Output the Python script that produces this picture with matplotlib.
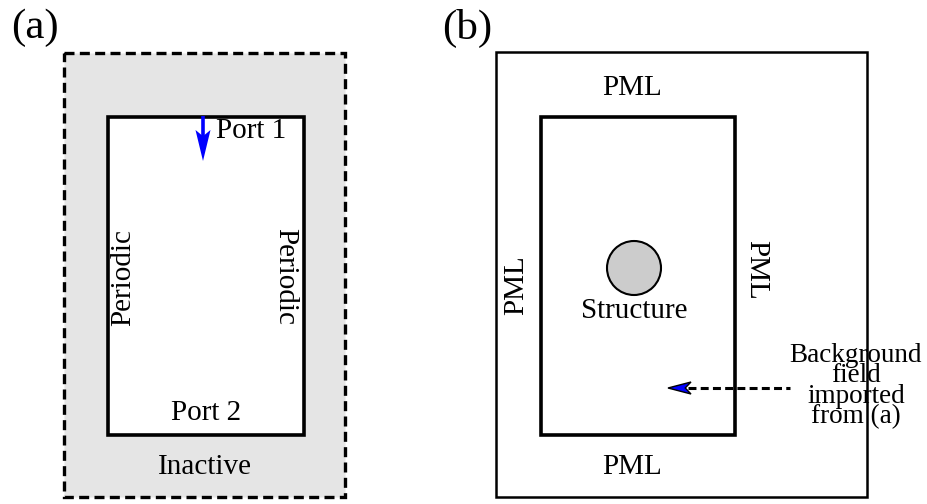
import numpy as np
import matplotlib.pyplot as plt
from matplotlib.patches import Rectangle, Circle, Polygon

plt.rcParams['font.family'] = ['Liberation Serif', 'DejaVu Serif']

panel_tags = ['(a)', '(b)']
side_labels_a = ['Port 1', 'Port 2', 'Periodic', 'Periodic', 'Inactive']
side_labels_b = ['PML', 'PML', 'PML', 'PML']
structure_label = 'Structure'
source_note = 'Background\nfield\nimported\nfrom (a)'


def stealth(ax, tip, direction, length, width, fc, ec='none', lw=0.0, notch=0.3):
    # arrowhead with a notched back, drawn in pixel coordinates
    d = np.asarray(direction, float)
    d /= np.hypot(*d)
    n = np.array([-d[1], d[0]])
    tip = np.asarray(tip, float)
    back = tip - d * length
    pts = [tip, back + n * width / 2, tip - d * length * (1 - notch), back - n * width / 2]
    ax.add_patch(Polygon(pts, closed=True, fc=fc, ec=ec, lw=lw, joinstyle='miter', zorder=5))


fig = plt.figure(figsize=(9.27, 5.04), dpi=100)
ax = fig.add_axes((0, 0, 1, 1))
ax.set_xlim(0, 927)
ax.set_ylim(504, 0)
ax.axis('off')

fs = 21

# ---- (a) periodic cell with inactive frame
ax.add_patch(Rectangle((64, 53), 281, 444, facecolor='#e5e5e5', edgecolor='black',
                       lw=2.4, ls=(0, (3, 1.6))))
ax.add_patch(Rectangle((108, 117), 196, 318, facecolor='white', edgecolor='black', lw=2.6))
ax.plot([203, 203], [116, 138], color='blue', lw=2.6, solid_capstyle='butt')
stealth(ax, (203, 161), (0, 1), 31, 15, 'blue', notch=0.2)
ax.text(216, 131, side_labels_a[0], fontsize=fs, ha='left', va='center')
ax.text(206, 413, side_labels_a[1], fontsize=fs, ha='center', va='center')
ax.text(123, 277, side_labels_a[2], fontsize=fs, ha='center', va='center', rotation=90)
ax.text(285, 277, side_labels_a[3], fontsize=fs, ha='center', va='center', rotation=-90)
ax.text(205, 467, side_labels_a[4], fontsize=fs, ha='center', va='center')
ax.text(11, 28, panel_tags[0], fontsize=31, ha='left', va='center')

# ---- (b) scattering setup with PML
ax.add_patch(Rectangle((496, 52), 371, 445, facecolor='white', edgecolor='black', lw=1.8))
ax.add_patch(Rectangle((541, 117), 194, 318, facecolor='none', edgecolor='black', lw=2.6))
ax.text(632, 88, side_labels_b[0], fontsize=fs, ha='center', va='center')
ax.text(632, 467, side_labels_b[1], fontsize=fs, ha='center', va='center')
ax.text(516, 285, side_labels_b[2], fontsize=fs, ha='center', va='center', rotation=90)
ax.text(756, 270, side_labels_b[3], fontsize=fs, ha='center', va='center', rotation=-90)
ax.add_patch(Circle((634, 268), 27, facecolor='#cccccc', edgecolor='black', lw=1.5))
ax.text(634, 311, structure_label, fontsize=fs, ha='center', va='center')
ax.plot([688, 790], [388, 388], color='black', lw=2.2, ls=(0, (2.6, 1.4)),
        dash_capstyle='butt')
stealth(ax, (668, 388), (-1, 0), 23, 12, 'blue', ec='black', lw=1.0, notch=0.25)
ax.text(856, 386, source_note, fontsize=19.5, ha='center', va='center', linespacing=0.76)
ax.text(442, 28, panel_tags[1], fontsize=31, ha='left', va='center')

fig.savefig('out.png', dpi=100)
